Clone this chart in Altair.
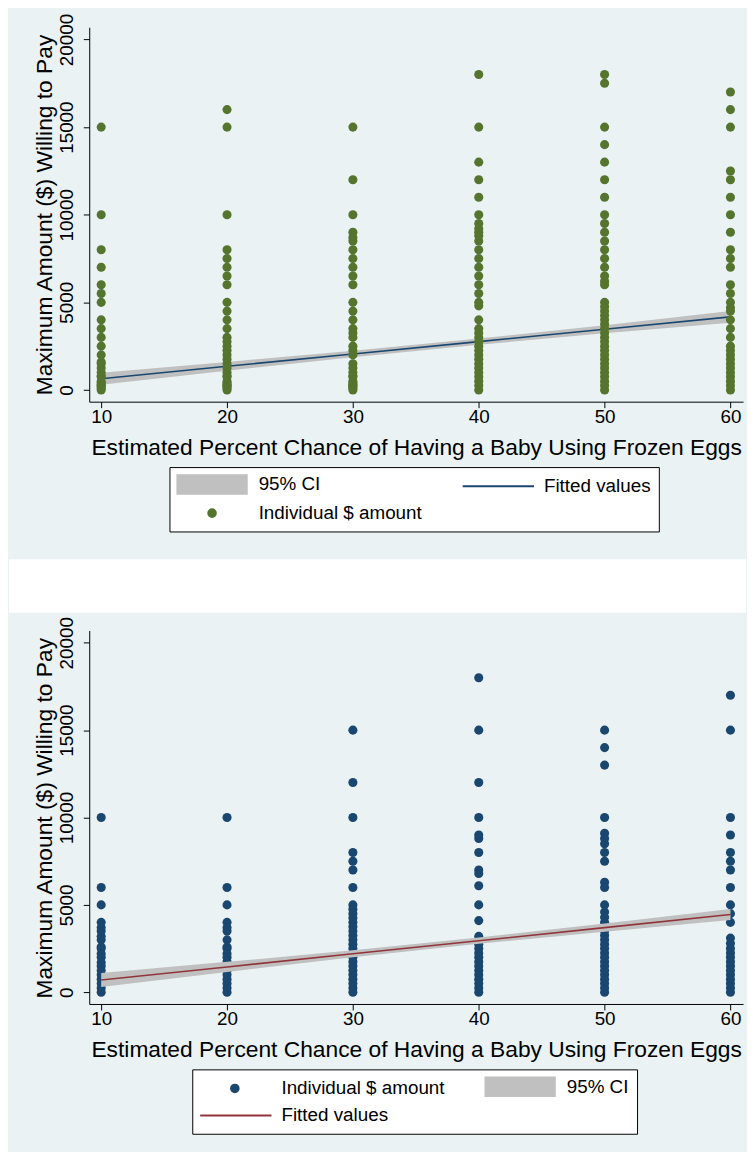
import altair as alt
import pandas as pd

FONT = "Liberation Sans"
BG = "#eaf2f3"
GREEN = "#55752f"
NAVY = "#1a476f"
MAROON = "#90353b"
CI_GREY = "#c0c0c0"

X_TICKS = [10, 20, 30, 40, 50, 60]
Y_TICKS = [0, 5000, 10000, 15000, 20000]
X_TITLE = "Estimated Percent Chance of Having a Baby Using Frozen Eggs"
Y_TITLE = "Maximum Amount ($) Willing to Pay"

# ---- top panel: individual amounts per estimated chance ----
top_10 = [15000, 10000, 8000, 7000, 6000, 5500, 5000, 4000, 3500, 3000, 2500, 2000,
          1600, 1500, 1250, 1000, 800, 750, 500, 400, 300, 250, 200, 100, 0]
top_20 = [16000, 15000, 10000, 8000, 7500, 7000, 6500, 6000, 5000, 4500, 4000, 3500,
          3000, 2750, 2500, 2250, 2000, 1750, 1500, 1250, 1000, 800, 750, 500, 400,
          300, 250, 200, 100, 0]
top_30 = [15000, 12000, 10000, 9000, 8700, 8500, 8000, 7500, 7000, 6500, 6000, 5000,
          4500, 4000, 3500, 3250, 3000, 2500, 2250, 2000, 1500, 1250, 1000, 800, 750,
          500, 400, 300, 250, 200, 100, 0]
top_40 = [18000, 15000, 13000, 12000, 11000, 10000, 9500, 9200, 9000, 8800, 8500, 8000,
          7500, 7000, 6500, 6000, 5500, 5000, 4800, 4000, 3500, 3250, 3000, 2750, 2500,
          2250, 2000, 1750, 1500, 1250, 1000, 750, 500, 250, 0]
top_50 = [18000, 17500, 15000, 14000, 13000, 12000, 11000, 10000, 9500, 9000, 8500, 8000,
          7500, 7000, 6500, 6200, 6000, 5000, 4750, 4500, 4250, 4000, 3750, 3500, 3250,
          3000, 2750, 2500, 2250, 2000, 1750, 1500, 1250, 1000, 750, 500, 250, 0]
top_60 = [17000, 16000, 15000, 12500, 12000, 11000, 10000, 9000, 8000, 7500, 7000, 6000,
          5500, 5000, 4700, 4500, 4000, 3500, 3000, 2500, 2250, 2000, 1750, 1500, 1250,
          1000, 750, 500, 250, 0]
top_fit = [640, 1350, 2050, 2760, 3460, 4170]
top_lo = [300, 1100, 1860, 2580, 3230, 3840]
top_hi = [980, 1600, 2240, 2940, 3690, 4500]

# ---- bottom panel ----
bot_10 = [10000, 6000, 5000, 4000, 3700, 3500, 3200, 3000, 2600, 2500, 2200, 2000, 1700,
          1500, 1250, 1000, 750, 500, 250, 0]
bot_20 = [10000, 6000, 5000, 4000, 3700, 3500, 3000, 2600, 2500, 2200, 2000, 1750, 1500,
          1250, 1000, 750, 500, 250, 0]
bot_30 = [15000, 12000, 10000, 8000, 7500, 7000, 6000, 5000, 4750, 4500, 4250, 4000, 3750,
          3500, 3250, 3000, 2750, 2500, 2250, 2000, 1750, 1500, 1250, 1000, 750, 500, 250, 0]
bot_40 = [18000, 15000, 12000, 10000, 9000, 8800, 8000, 7000, 6800, 6100, 5000, 4100, 3200,
          3000, 2750, 2500, 2250, 2000, 1750, 1500, 1250, 1000, 750, 500, 250, 0]
bot_50 = [15000, 14000, 13000, 10000, 9100, 8800, 8500, 8000, 7500, 6300, 6000, 5000, 4600,
          4300, 4000, 3750, 3500, 3250, 3000, 2750, 2500, 2250, 2000, 1750, 1500, 1250, 1000,
          750, 500, 250, 0]
bot_60 = [17000, 15000, 10000, 9000, 8000, 7500, 7000, 6000, 5000, 4500, 4000, 3100, 2800,
          2500, 2250, 2000, 1750, 1500, 1250, 1000, 750, 500, 250, 0]
bot_fit = [700, 1450, 2200, 2950, 3700, 4450]
bot_lo = [300, 1160, 2000, 2770, 3470, 4130]
bot_hi = [1100, 1740, 2400, 3130, 3930, 4770]

# legend symbol shapes (symbol box of 17px -> 8.5px per unit, centre 9.5px into the entry)
RECT_PATH = "M-1.118,-1.1H7.118V1.1H-1.118Z"
LINE_PATH = "M-1.118,0H7.353"
DOT_PATH = "M2.55,0A0.45,0.45,0,1,0,3.45,0A0.45,0.45,0,1,0,2.55,0Z"

XS = alt.Scale(domain=[9.05, 61.0], nice=False, zero=False)
YS = alt.Scale(domain=[-670, 20700], nice=False, zero=False)

x_axis = alt.Axis(values=X_TICKS, title=X_TITLE, format="d", grid=False,
                  tickSize=6, tickColor="black", domainColor="black",
                  labelFontSize=19, labelColor="black", labelBaseline="alphabetic",
                  labelPadding=15, labelFlush=False, labelOverlap=False,
                  titleFontSize=23, titleFontWeight="normal", titleColor="black",
                  titleX=330, titleY=53, titleAlign="center", titleBaseline="alphabetic")
y_axis = alt.Axis(values=Y_TICKS, title=Y_TITLE, format="d", grid=True,
                  gridColor=BG, gridWidth=1.5,
                  tickSize=6, tickColor="black", domainColor="black",
                  labelFontSize=19, labelColor="black", labelAngle=270,
                  labelAlign="center", labelBaseline="alphabetic", labelPadding=11,
                  labelFlush=False, labelOverlap=False,
                  titleFontSize=23, titleFontWeight="normal", titleColor="black",
                  titleAngle=270, titleX=-38, titleY=189, titleAlign="center",
                  titleBaseline="alphabetic")


def dots_frame(cols):
    rows = []
    for x, vals in cols:
        for v in vals:
            rows.append({"x": x, "amount": v})
    return pd.DataFrame(rows)


def fit_frame(fit, lo, hi):
    return pd.DataFrame({"x": X_TICKS, "fit": fit, "lo": lo, "hi": hi})


def scatter(df, color):
    return alt.Chart(df).mark_circle(size=84, opacity=1, color=color).encode(
        x=alt.X("x:Q", scale=XS, axis=x_axis),
        y=alt.Y("amount:Q", scale=YS, axis=y_axis),
    )


def ci_band(df):
    return alt.Chart(df).mark_area(color=CI_GREY, opacity=1).encode(
        x=alt.X("x:Q", scale=XS, axis=x_axis),
        y=alt.Y("lo:Q", scale=YS, axis=y_axis),
        y2="hi:Q",
    )


def fit_line(df, color):
    return alt.Chart(df).mark_line(color=color, strokeWidth=1.6).encode(
        x=alt.X("x:Q", scale=XS, axis=x_axis),
        y=alt.Y("fit:Q", scale=YS, axis=y_axis),
    )


def strip(y1, y2, color):
    return alt.Chart(alt.Data(values=[{"k": 1}])).mark_rect(color=color).encode(
        x=alt.value(-81), x2=alt.value(663), y=alt.value(y1), y2=alt.value(y2)
    )


def legend_layer(field, names, fills, strokes, shapes, lx, ly):
    leg = alt.Legend(title=None, orient="none", legendX=lx, legendY=ly, columns=2,
                     symbolSize=289, symbolStrokeWidth=2, symbolOpacity=1,
                     labelFontSize=19, labelFont=FONT, labelColor="black",
                     labelOffset=63, labelLimit=400, padding=8, rowPadding=6,
                     columnPadding=36, strokeColor="black", fillColor="white")
    df = pd.DataFrame({field: names})
    return alt.Chart(df).transform_filter("false").mark_point(filled=True, opacity=1).encode(
        fill=alt.Fill(f"{field}:N", scale=alt.Scale(domain=names, range=fills), legend=leg),
        stroke=alt.Stroke(f"{field}:N", scale=alt.Scale(domain=names, range=strokes), legend=leg),
        shape=alt.Shape(f"{field}:N", scale=alt.Scale(domain=names, range=shapes), legend=leg),
    )


top_dots = dots_frame([(10, top_10), (20, top_20), (30, top_30),
                       (40, top_40), (50, top_50), (60, top_60)])
bot_dots = dots_frame([(10, bot_10), (20, bot_20), (30, bot_30),
                       (40, bot_40), (50, bot_50), (60, bot_60)])
top_fit_df = fit_frame(top_fit, top_lo, top_hi)
bot_fit_df = fit_frame(bot_fit, bot_lo, bot_hi)

# legend entries fill column by column (2 rows), so order is: row1col1, row2col1, row1col2
top_names = ["95% CI", "Individual $ amount", "Fitted values"]
bot_names = ["Individual $ amount", "Fitted values", "95% CI"]

top = alt.layer(
    strip(-19, -14, BG),
    strip(520, 531, BG),
    ci_band(top_fit_df),
    fit_line(top_fit_df, NAVY),
    scatter(top_dots, GREEN),
    legend_layer("series_top", top_names, [CI_GREY, GREEN, NAVY], [CI_GREY, GREEN, NAVY],
                 [RECT_PATH, DOT_PATH, LINE_PATH], 81, 444),
).properties(width=660, height=378)

bottom = alt.layer(
    strip(-72, -18, "white"),
    strip(505, 520, BG),
    scatter(bot_dots, NAVY),
    ci_band(bot_fit_df),
    fit_line(bot_fit_df, MAROON),
    legend_layer("series_bot", bot_names, [NAVY, MAROON, CI_GREY], [NAVY, MAROON, CI_GREY],
                 [DOT_PATH, LINE_PATH, RECT_PATH], 104, 443),
).properties(width=660, height=377)

chart = (
    alt.vconcat(top, bottom, spacing=4)
    .resolve_scale(fill="independent", stroke="independent", shape="independent")
    .resolve_legend(fill="independent", stroke="independent", shape="independent")
    .properties(background=BG, padding={"top": -6, "left": 0, "right": 0, "bottom": 0})
    .configure(font=FONT)
    .configure_view(fill="white", stroke="transparent")
)

chart.save("out.html", embed_options={"renderer": "svg", "actions": False})
